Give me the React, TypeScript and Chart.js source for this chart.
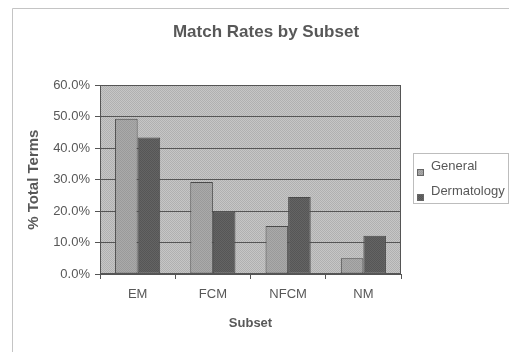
import React, { useEffect, useRef } from "react";
import { Chart, registerables } from "chart.js";

Chart.register(...registerables);

const categories = ["EM", "FCM", "NFCM", "NM"];
const seriesNames = ["General", "Dermatology"];
const generalValues = [49.4, 29.3, 15.3, 5.0];
const dermatologyValues = [43.4, 19.8, 24.5, 12.2];
const yTickMax = 60;
const yTickStep = 10;

const FONT = "'Liberation Sans', Arial, sans-serif";
const TEXT = "#585858";

function makePattern(c1: string, c2: string): CanvasPattern | string {
  const c = document.createElement("canvas");
  c.width = 2;
  c.height = 2;
  const x = c.getContext("2d");
  if (!x) return c1;
  x.fillStyle = c1;
  x.fillRect(0, 0, 2, 2);
  x.fillStyle = c2;
  x.fillRect(0, 0, 1, 1);
  x.fillRect(1, 1, 1, 1);
  const ctx = document.createElement("canvas").getContext("2d");
  const p = ctx ? ctx.createPattern(c, "repeat") : null;
  return p || c1;
}

export default function App() {
  const ref = useRef<HTMLCanvasElement | null>(null);

  useEffect(() => {
    if (!ref.current) return;
    const plotBg = makePattern("#c6c6c6", "#b0b0b0");
    const genFill = makePattern("#aaaaaa", "#9a9a9a");
    const dermFill = makePattern("#646464", "#565656");
    const fills = [genFill, dermFill];

    const framePlugin = {
      id: "framePlugin",
      beforeDraw(chart: any) {
        const ctx = chart.ctx;
        ctx.save();
        ctx.fillStyle = "#ffffff";
        ctx.fillRect(0, 0, chart.width, chart.height);
        ctx.strokeStyle = "#c4c4c4";
        ctx.lineWidth = 1;
        ctx.beginPath();
        ctx.moveTo(12.5, chart.height);
        ctx.lineTo(12.5, 8.5);
        ctx.lineTo(chart.width, 8.5);
        ctx.stroke();
        const a = chart.chartArea;
        ctx.fillStyle = plotBg;
        ctx.fillRect(a.left, a.top, a.right - a.left, a.bottom - a.top);
        ctx.restore();
      },
      afterDraw(chart: any) {
        const ctx = chart.ctx;
        const a = chart.chartArea;
        ctx.save();
        ctx.strokeStyle = "#555555";
        ctx.lineWidth = 1;
        ctx.strokeRect(Math.round(a.left) + 0.5, Math.round(a.top) + 0.5, Math.round(a.right - a.left) - 1, Math.round(a.bottom - a.top) - 1);
        // legend
        const lx = Math.round(a.right) + 12;
        const ly = 153;
        ctx.strokeStyle = "#bdbdbd";
        ctx.strokeRect(lx + 0.5, ly + 0.5, 95, 50);
        ctx.font = `13px ${FONT}`;
        ctx.textBaseline = "middle";
        ctx.textAlign = "left";
        chart.data.datasets.forEach((ds: any, i: number) => {
          const yc = ly + 13 + i * 25;
          ctx.fillStyle = fills[i];
          ctx.fillRect(lx + 4, yc + 3, 7, 7);
          ctx.strokeStyle = "#666666";
          ctx.strokeRect(lx + 4.5, yc + 3.5, 6, 6);
          ctx.fillStyle = TEXT;
          ctx.fillText(ds.label, lx + 18, yc);
        });
        ctx.restore();
      },
    };

    const chart = new Chart(ref.current, {
      type: "bar",
      data: {
        labels: categories,
        datasets: [
          {
            label: seriesNames[0],
            data: generalValues,
            backgroundColor: genFill as any,
            borderColor: "#4a4a4a",
            borderWidth: 1,
            borderSkipped: false,
            categoryPercentage: 0.6,
            barPercentage: 1.0,
          },
          {
            label: seriesNames[1],
            data: dermatologyValues,
            backgroundColor: dermFill as any,
            borderColor: "#4a4a4a",
            borderWidth: 1,
            borderSkipped: false,
            categoryPercentage: 0.6,
            barPercentage: 1.0,
          },
        ],
      },
      options: {
        responsive: false,
        animation: false,
        devicePixelRatio: 1,
        layout: { padding: { left: 23, right: 0, top: 0, bottom: 0 } },
        plugins: {
          legend: { display: false },
          tooltip: { enabled: false },
          title: {
            display: true,
            text: "Match Rates by Subset",
            color: TEXT,
            font: { family: FONT, size: 17, weight: "bold" },
            padding: { top: 22, bottom: 43 },
          },
        },
        scales: {
          x: {
            grid: {
              display: true,
              drawOnChartArea: false,
              offset: true,
              tickLength: 5,
              color: "#555555",
            },
            border: { display: true, color: "#555555" },
            ticks: {
              color: TEXT,
              padding: 8,
              font: { family: FONT, size: 13 },
            },
            title: {
              display: true,
              text: "Subset",
              color: TEXT,
              font: { family: FONT, size: 13, weight: "bold" },
              padding: { top: 0, bottom: 21 },
            },
            afterFit: (s: any) => {
              s.height = 78;
            },
          },
          y: {
            min: 0,
            max: yTickMax,
            grid: { color: "#555555", tickLength: 5, lineWidth: 1 },
            border: { display: true, color: "#555555" },
            ticks: {
              stepSize: yTickStep,
              color: TEXT,
              padding: 5,
              font: { family: FONT, size: 13 },
              callback: (v: any) => Number(v).toFixed(1) + "%",
            },
            title: {
              display: true,
              text: "% Total Terms",
              color: TEXT,
              font: { family: FONT, size: 15, weight: "bold" },
              padding: { top: 2, bottom: 0 },
            },
            afterFit: (s: any) => {
              s.width = 77;
            },
          },
          yRight: {
            type: "linear",
            position: "right",
            display: true,
            grid: { display: false },
            border: { display: false },
            ticks: { display: false },
            afterFit: (s: any) => {
              s.width = 108;
            },
          },
        },
      },
      plugins: [framePlugin],
    } as any);
    return () => chart.destroy();
  }, []);

  return (
    <div style={{ position: "absolute", left: 0, top: 0, width: 509, height: 352 }}>
      <canvas ref={ref} width={509} height={352} style={{ display: "block" }} />
    </div>
  );
}
